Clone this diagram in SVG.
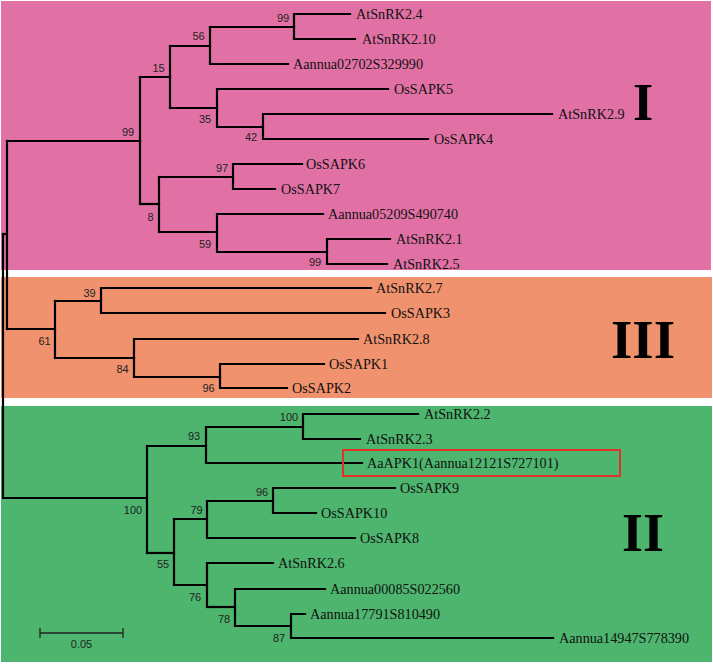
<svg xmlns="http://www.w3.org/2000/svg" width="713" height="664" viewBox="0 0 713 664">
<style>
.leaf{font-family:"Liberation Serif","Times New Roman",serif;font-size:14.2px;fill:#111}
.bs{font-family:"Liberation Sans",Arial,sans-serif;font-size:11px;fill:#222;text-anchor:middle}
.clade{font-family:"Liberation Serif","Times New Roman",serif;font-weight:bold;fill:#000;text-anchor:middle}
.br{fill:none;stroke:#000;stroke-width:2.2;stroke-linecap:square;stroke-linejoin:miter}
</style>
<rect x="0" y="0" width="713" height="664" fill="#fff"/>
<g id="bg">
<rect x="1" y="1" width="710" height="269" fill="#e171a5"/>
<rect x="1" y="277" width="711" height="121" fill="#f1926e"/>
<rect x="1" y="406" width="711" height="256" fill="#4db56d"/>
</g>
<g id="connectors" class="br">
<!-- Clade I -->
<path d="M350 14H294V39H355"/>
<path d="M210 27H294"/>
<path d="M288 64H210V27"/>
<path d="M170 46H210"/>
<path d="M552 114H263V139H428"/>
<path d="M388 89H217V127H263"/>
<path d="M170 108H217"/>
<path d="M170 46V108"/>
<path d="M140 77H170"/>
<path d="M302 164H233V189H275"/>
<path d="M159 177H233"/>
<path d="M390 239H327V264H387"/>
<path d="M323 214H217V252H327"/>
<path d="M159 232H217"/>
<path d="M159 177V232"/>
<path d="M140 204H159"/>
<path d="M140 77V204"/>
<path d="M7 141H140"/>
<!-- Clade III -->
<path d="M371 288H101V313H385"/>
<path d="M55 301H101"/>
<path d="M324 364H220V388H287"/>
<path d="M358 339H134V377H220"/>
<path d="M55 358H134"/>
<path d="M55 301V358"/>
<path d="M7 329H55"/>
<path d="M7 141V329"/>
<path d="M3 234H7"/>
<!-- Clade II -->
<path d="M418 414H303V439H360"/>
<path d="M206 427H303"/>
<path d="M362 463H206V427"/>
<path d="M147 446H206"/>
<path d="M395 488H273V513H316"/>
<path d="M207 501H273"/>
<path d="M355 538H207V501"/>
<path d="M174 519H207"/>
<path d="M305 614H291V638H553"/>
<path d="M235 626H291"/>
<path d="M325 589H235V626"/>
<path d="M207 607H235"/>
<path d="M273 563H207V607"/>
<path d="M174 585H207"/>
<path d="M174 519V585"/>
<path d="M147 553H174"/>
<path d="M147 446V553"/>
<path d="M3 498H147"/>
<path d="M3 234V498"/>
</g>
<g id="leaf-AtSnRK2.4"><text class="leaf" x="356" y="19">AtSnRK2.4</text></g>
<g id="leaf-AtSnRK2.10"><text class="leaf" x="362" y="44">AtSnRK2.10</text></g>
<g id="leaf-Aannua02702S329990"><text class="leaf" x="293" y="69">Aannua02702S329990</text></g>
<g id="leaf-OsSAPK5"><text class="leaf" x="394" y="94">OsSAPK5</text></g>
<g id="leaf-AtSnRK2.9"><text class="leaf" x="558" y="119">AtSnRK2.9</text></g>
<g id="leaf-OsSAPK4"><text class="leaf" x="434" y="144">OsSAPK4</text></g>
<g id="leaf-OsSAPK6"><text class="leaf" x="306" y="169">OsSAPK6</text></g>
<g id="leaf-OsSAPK7"><text class="leaf" x="281" y="194">OsSAPK7</text></g>
<g id="leaf-Aannua05209S490740"><text class="leaf" x="328" y="219">Aannua05209S490740</text></g>
<g id="leaf-AtSnRK2.1"><text class="leaf" x="396" y="244">AtSnRK2.1</text></g>
<g id="leaf-AtSnRK2.5"><text class="leaf" x="393" y="269">AtSnRK2.5</text></g>
<g id="leaf-AtSnRK2.7"><text class="leaf" x="376" y="293">AtSnRK2.7</text></g>
<g id="leaf-OsSAPK3"><text class="leaf" x="391" y="318">OsSAPK3</text></g>
<g id="leaf-AtSnRK2.8"><text class="leaf" x="363" y="344">AtSnRK2.8</text></g>
<g id="leaf-OsSAPK1"><text class="leaf" x="329" y="369">OsSAPK1</text></g>
<g id="leaf-OsSAPK2"><text class="leaf" x="292" y="393">OsSAPK2</text></g>
<g id="leaf-AtSnRK2.2"><text class="leaf" x="424" y="419">AtSnRK2.2</text></g>
<g id="leaf-AtSnRK2.3"><text class="leaf" x="366" y="444">AtSnRK2.3</text></g>
<g id="leaf-AaAPK1"><rect x="343" y="450" width="277" height="26" fill="none" stroke="#e2302a" stroke-width="2"/><text class="leaf" x="367" y="468">AaAPK1(Aannua12121S727101)</text></g>
<g id="leaf-OsSAPK9"><text class="leaf" x="400" y="493">OsSAPK9</text></g>
<g id="leaf-OsSAPK10"><text class="leaf" x="321" y="518">OsSAPK10</text></g>
<g id="leaf-OsSAPK8"><text class="leaf" x="360" y="543">OsSAPK8</text></g>
<g id="leaf-AtSnRK2.6"><text class="leaf" x="278" y="568">AtSnRK2.6</text></g>
<g id="leaf-Aannua00085S022560"><text class="leaf" x="330" y="594">Aannua00085S022560</text></g>
<g id="leaf-Aannua17791S810490"><text class="leaf" x="310" y="619">Aannua17791S810490</text></g>
<g id="leaf-Aannua14947S778390"><text class="leaf" x="559" y="643">Aannua14947S778390</text></g>
<g id="bootstrap">
<text class="bs" x="283" y="22">99</text>
<text class="bs" x="198.5" y="40">56</text>
<text class="bs" x="158.5" y="72">15</text>
<text class="bs" x="205" y="123">35</text>
<text class="bs" x="251" y="141">42</text>
<text class="bs" x="128" y="136">99</text>
<text class="bs" x="222" y="172">97</text>
<text class="bs" x="150.5" y="221">8</text>
<text class="bs" x="205" y="248">59</text>
<text class="bs" x="315" y="266">99</text>
<text class="bs" x="89.5" y="297">39</text>
<text class="bs" x="44.5" y="345">61</text>
<text class="bs" x="122.5" y="373">84</text>
<text class="bs" x="208.5" y="392">96</text>
<text class="bs" x="289" y="421">100</text>
<text class="bs" x="194" y="440">93</text>
<text class="bs" x="133" y="514">100</text>
<text class="bs" x="262" y="496">96</text>
<text class="bs" x="196.5" y="514">79</text>
<text class="bs" x="163" y="568">55</text>
<text class="bs" x="195" y="601">76</text>
<text class="bs" x="224" y="623">78</text>
<text class="bs" x="279" y="642">87</text>
</g>
<g id="clade-I"><text class="clade" x="643" y="120" font-size="52">I</text></g>
<g id="clade-III"><text class="clade" x="643" y="358" font-size="55">III</text></g>
<g id="clade-II"><text class="clade" x="643" y="551" font-size="54">II</text></g>
<g id="scale-bar">
<path d="M40 633H123M40 628V638M123 628V638" fill="none" stroke="#222" stroke-width="1.3"/>
<text class="bs" x="81.5" y="648">0.05</text>
</g>
</svg>
